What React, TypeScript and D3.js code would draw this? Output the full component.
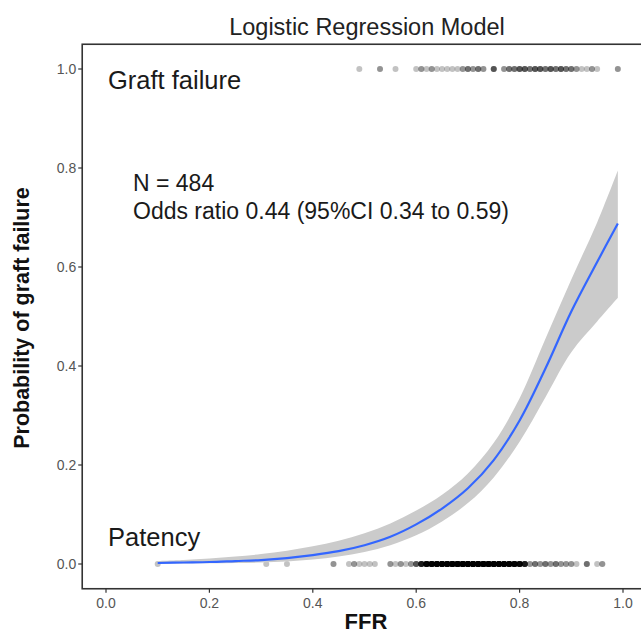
import React from "react";
import * as d3 from "d3";

// Fitted curve and 95% CI band
const curveFFR = [0.1, 0.15, 0.2, 0.25, 0.3, 0.35, 0.4, 0.45, 0.5, 0.55, 0.6, 0.65, 0.7, 0.75, 0.8, 0.85, 0.9, 0.95, 0.99];
const curveFit = [0.002, 0.003, 0.004, 0.006, 0.008, 0.012, 0.018, 0.026, 0.038, 0.055, 0.08, 0.112, 0.153, 0.21, 0.29, 0.395, 0.51, 0.61, 0.688];
const curveUpper = [0.006, 0.008, 0.011, 0.015, 0.02, 0.027, 0.036, 0.047, 0.062, 0.082, 0.108, 0.14, 0.183, 0.245, 0.335, 0.455, 0.575, 0.69, 0.795];
const curveLower = [0.0005, 0.001, 0.0015, 0.002, 0.003, 0.005, 0.009, 0.015, 0.024, 0.038, 0.058, 0.086, 0.123, 0.175, 0.247, 0.337, 0.428, 0.49, 0.538];

// Observations: graft failure (outcome = 1)
const failureFFR = [0.49, 0.53, 0.56, 0.6, 0.61, 0.62, 0.63, 0.64, 0.65, 0.66, 0.67, 0.68, 0.69, 0.7, 0.71, 0.72, 0.73, 0.75, 0.77, 0.78, 0.79, 0.8, 0.81, 0.82, 0.83, 0.84, 0.85, 0.86, 0.87, 0.88, 0.89, 0.9, 0.91, 0.92, 0.93, 0.94, 0.95, 0.99];
const failureCount = [1, 2, 1, 1, 2, 1, 2, 1, 1, 1, 1, 1, 2, 3, 2, 3, 2, 4, 2, 3, 3, 4, 4, 3, 4, 4, 3, 4, 3, 4, 3, 3, 2, 1, 1, 2, 1, 2];

// Observations: patency (outcome = 0)
const patencyFFR = [0.1, 0.31, 0.35, 0.44, 0.47, 0.48, 0.49, 0.5, 0.51, 0.52, 0.55, 0.56, 0.57, 0.58, 0.59, 0.6, 0.61, 0.62, 0.63, 0.64, 0.65, 0.66, 0.67, 0.68, 0.69, 0.7, 0.71, 0.72, 0.73, 0.74, 0.75, 0.76, 0.77, 0.78, 0.79, 0.8, 0.81, 0.82, 0.83, 0.84, 0.85, 0.86, 0.87, 0.88, 0.89, 0.9, 0.91, 0.93, 0.95, 0.96];
const patencyCount = [1, 1, 1, 2, 1, 2, 1, 1, 1, 1, 2, 1, 2, 1, 2, 4, 8, 13, 15, 16, 18, 18, 19, 19, 20, 21, 20, 20, 19, 19, 18, 17, 16, 15, 14, 12, 8, 2, 3, 2, 3, 2, 3, 2, 2, 2, 1, 3, 1, 2];

const xTicks = [0, 0.2, 0.4, 0.6, 0.8, 1.0];
const yTicks = [0, 0.2, 0.4, 0.6, 0.8, 1.0];

const title = "Logistic Regression Model";
const xLabel = "FFR";
const yLabel = "Probability of graft failure";
const annTop = "Graft failure";
const annBottom = "Patency";
const annN = "N = 484";
const annOR = "Odds ratio 0.44 (95%CI 0.34 to 0.59)";

export default function App() {
  const W = 641, H = 636;
  const x = d3.scaleLinear().domain([0, 1]).range([106, 623]);
  const y = d3.scaleLinear().domain([0, 1]).range([564, 69]);
  const panelLeft = x(-0.046);
  const panelTop = y(1.05);
  const panelBottom = y(-0.05);

  const idx = curveFFR.map((_, i) => i);
  const area = d3.area<number>()
    .x((i) => x(curveFFR[i]))
    .y0((i) => y(curveLower[i]))
    .y1((i) => y(curveUpper[i]))
    .curve(d3.curveCatmullRom.alpha(0.5));
  const line = d3.line<number>()
    .x((i) => x(curveFFR[i]))
    .y((i) => y(curveFit[i]))
    .curve(d3.curveCatmullRom.alpha(0.5));

  const pts: { cx: number; cy: number; k: string }[] = [];
  failureFFR.forEach((v, i) => {
    for (let j = 0; j < failureCount[i]; j++) pts.push({ cx: x(v), cy: y(1), k: `f${i}-${j}` });
  });
  patencyFFR.forEach((v, i) => {
    for (let j = 0; j < patencyCount[i]; j++) pts.push({ cx: x(v), cy: y(0), k: `p${i}-${j}` });
  });

  const font = "'Liberation Sans', Arial, sans-serif";
  return (
    <svg width={W} height={H} style={{ position: "absolute", left: 0, top: 0, background: "#fff" }} fontFamily={font}>
      <rect x={0} y={0} width={W} height={H} fill="#fff" />
      <text x={367} y={35} textAnchor="middle" fontSize={23.5} fill="#222">{title}</text>
      {pts.map((p) => (
        <circle key={p.k} cx={p.cx} cy={p.cy} r={3} fill="#000" fillOpacity={0.24} />
      ))}
      <path d={area(idx) || ""} fill="#cbcbcb" />
      <path d={line(idx) || ""} fill="none" stroke="#3366ff" strokeWidth={2.2} />
      <rect x={panelLeft} y={panelTop} width={W + 20 - panelLeft} height={panelBottom - panelTop} fill="none" stroke="#333" strokeWidth={1.6} />
      {xTicks.map((t) => (
        <g key={`x${t}`}>
          <line x1={x(t)} x2={x(t)} y1={panelBottom} y2={panelBottom + 4} stroke="#333" strokeWidth={1.2} />
          <text x={x(t)} y={panelBottom + 19} textAnchor="middle" fontSize={14} fill="#555">{t.toFixed(1)}</text>
        </g>
      ))}
      {yTicks.map((t) => (
        <g key={`y${t}`}>
          <line x1={panelLeft - 4} x2={panelLeft} y1={y(t)} y2={y(t)} stroke="#333" strokeWidth={1.2} />
          <text x={panelLeft - 6} y={y(t) + 5} textAnchor="end" fontSize={14} fill="#555">{t.toFixed(1)}</text>
        </g>
      ))}
      <text x={366} y={629} textAnchor="middle" fontSize={22} fontWeight="bold" fill="#111">{xLabel}</text>
      <text transform={`translate(29,318) rotate(-90)`} textAnchor="middle" fontSize={21.5} fontWeight="bold" fill="#111">{yLabel}</text>
      <text x={108} y={89} fontSize={25.5} fill="#1a1a1a">{annTop}</text>
      <text x={108} y={546} fontSize={25.5} fill="#1a1a1a">{annBottom}</text>
      <text x={133} y={191} fontSize={23} fill="#1a1a1a">{annN}</text>
      <text x={133} y={219} fontSize={23} fill="#1a1a1a">{annOR}</text>
    </svg>
  );
}
